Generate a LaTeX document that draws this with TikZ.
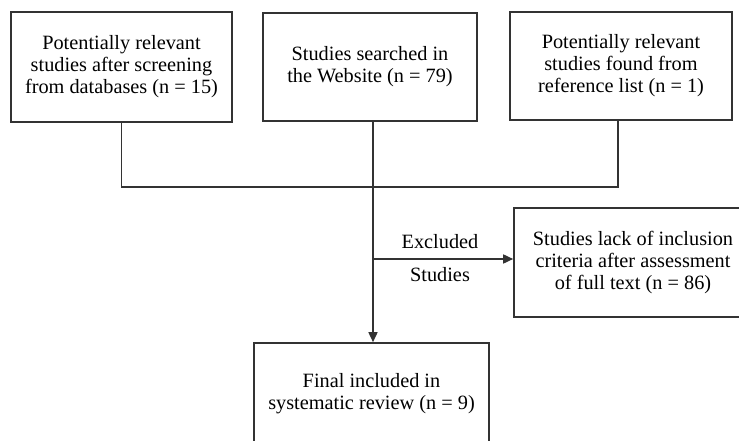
\documentclass[tikz,border=0pt]{standalone}
\usepackage{fontspec}
\setmainfont{Liberation Serif}
\usetikzlibrary{arrows.meta}
\usetikzlibrary{positioning}

\tikzset{
  stbox/.style={draw=black!80, line width=1.6pt, align=center,
    font=\fontsize{20.3}{22}\selectfont, inner sep=0pt},
  flow/.style={draw=black!80, line width=1.6pt},
  tip/.style={-{Triangle[length=10pt,width=9pt]}},
}

\begin{document}
\begin{tikzpicture}[x=1pt,y=-1pt]
  \useasboundingbox (0,0) rectangle (739,441);
  \clip (0,0) rectangle (739,441);
  % top row
  \node[stbox, minimum width=221, minimum height=110] (db) at (121.5,67)
    {Potentially relevant\\studies after screening\\from databases (n = 15)};
  \node[stbox, minimum width=214, minimum height=108] (web) at (370,67)
    {Studies searched in\\the Website (n = 79)\\[-16pt]};
  \node[stbox, minimum width=222, minimum height=108] (ref) at (621,66)
    {Potentially relevant\\studies found from\\reference list (n = 1)};
  % lower boxes
  \node[stbox, minimum width=238, minimum height=109] (lack) at (633,262.5)
    {Studies lack of inclusion\\criteria after assessment\\of full text (n = 86)};
  \node[stbox, minimum width=235, minimum height=104] (final) at (371.5,395)
    {Final included in\\systematic review (n = 9)\\[-14pt]};
  \coordinate (join) at (373,187);
  \coordinate (split) at (373,259);
  % connectors
  \draw[flow] (db.south) |- (join);
  \draw[flow] ([xshift=-3]ref.south) |- (join);
  \draw[flow,tip] ([xshift=3]web.south) -- (join) -- (split) -- (final.north -| join);
  \draw[flow,tip] (split) -- (split -| lack.west);
  \node[font=\fontsize{20.3}{22}\selectfont] (exc) at (440,242) {Excluded};
  \node[font=\fontsize{20.3}{22}\selectfont] (stu) at (440,275) {Studies};
\end{tikzpicture}
\end{document}
